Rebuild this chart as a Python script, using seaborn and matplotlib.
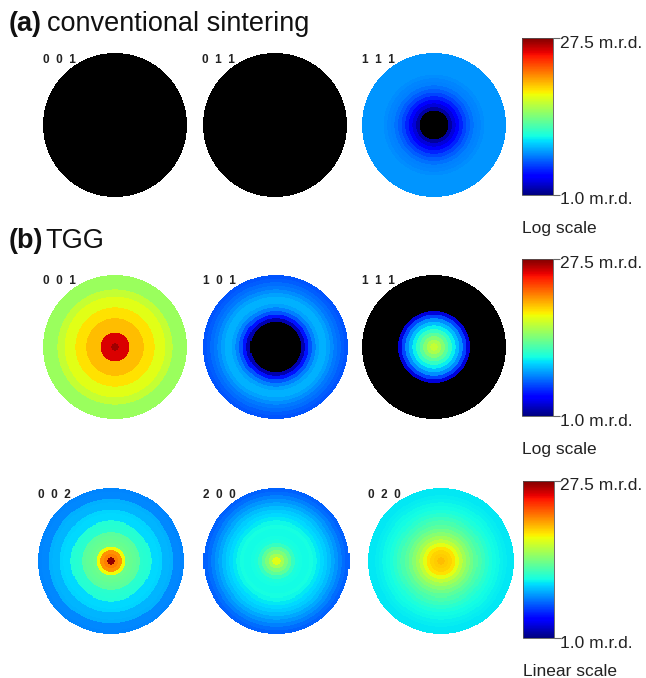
import numpy as np
import matplotlib
matplotlib.use("Agg")
import matplotlib.pyplot as plt
import matplotlib.colors as mcolors
import seaborn as sns

# ---- data: pole figure intensity (m.r.d.) per ring, centre -> rim ----
# ring outer radii as fraction of the pole figure radius
ring_edges = [0.05, 0.10, 0.15, 0.20, 0.25, 0.30, 0.35, 0.40, 0.45, 0.50,
              0.55, 0.60, 0.65, 0.70, 0.75, 0.80, 0.85, 0.90, 0.95, 1.00]

# (a) conventional sintering, log scale (values below 1.0 show black)
cs_001 = [0.5] * 20
cs_011 = [0.5] * 20
cs_111 = [0.5, 0.5, 0.5, 0.5, 1.1, 1.3, 1.5, 1.7, 1.9, 2.05,
          2.2, 2.3, 2.35, 2.4, 2.45, 2.45, 2.45, 2.45, 2.45, 2.45]

# (b) TGG, log scale
tgg_001 = [25.0, 21.0, 21.0, 21.0, 10.5, 10.5, 10.5, 10.5, 9.2, 9.2,
           9.2, 7.9, 7.9, 7.9, 7.0, 7.0, 5.9, 5.9, 5.9, 5.9]
tgg_101 = [0.5, 0.5, 0.5, 0.5, 0.5, 0.5, 0.5, 1.15, 1.6, 2.0,
           2.3, 2.55, 2.7, 2.7, 2.55, 2.4, 2.25, 2.15, 2.05, 2.0]
tgg_111 = [7.0, 6.3, 5.4, 4.6, 3.9, 3.3, 2.8, 2.4, 1.9, 1.3,
           0.5, 0.5, 0.5, 0.5, 0.5, 0.5, 0.5, 0.5, 0.5, 0.5]

# (b) TGG, linear scale
tgg_002 = [27.0, 21.5, 21.0, 18.0, 13.8, 13.6, 13.4, 13.2, 11.6, 11.5,
           11.4, 10.0, 10.0, 9.9, 9.0, 9.0, 8.9, 7.9, 7.9, 7.8]
tgg_200 = [17.5, 15.5, 14.3, 13.3, 12.0, 11.2, 11.0, 10.9, 10.9, 11.0,
           10.8, 10.4, 10.0, 9.6, 9.2, 8.7, 8.2, 7.7, 7.2, 6.8]
tgg_020 = [19.8, 19.4, 19.2, 18.8, 17.6, 16.4, 15.4, 14.6, 13.9, 13.2,
           12.6, 12.1, 11.6, 11.2, 10.9, 10.8, 10.6, 10.5, 10.4, 10.4]

row_profiles = [[cs_001, cs_011, cs_111],
                [tgg_001, tgg_101, tgg_111],
                [tgg_002, tgg_200, tgg_020]]
row_poles = [["0  0  1", "0  1  1", "1  1  1"],
             ["0  0  1", "1  0  1", "1  1  1"],
             ["0  0  2", "2  0  0", "0  2  0"]]
row_scales = ["Log scale", "Log scale", "Linear scale"]
mrd_min, mrd_max = 1.0, 27.5

# ---- style ----
sns.set_theme(style="white")
plt.rcParams["font.family"] = ["Liberation Sans", "DejaVu Sans"]

W, H = 646, 678
fig = plt.figure(figsize=(W / 100, H / 100), dpi=100)
fig.patch.set_facecolor("white")

cmap = matplotlib.colormaps["jet"].copy()
cmap.set_under("black")

# pixel layout
row_cy = [125, 346.5, 561]
row_r = [72, 72, 73]
row_cx = [[115, 274.5, 434], [115, 275.5, 434], [111, 276.5, 441]]
cbar_box = [(522, 38, 31, 157), (522, 259, 31, 157), (523, 481, 31, 157)]

# square grid for each pole figure
N = 144
c = (np.arange(N) + 0.5) / N * 2 - 1
xx, yy = np.meshgrid(c, c)
rr = np.hypot(xx, yy)
ring_idx = np.clip(np.searchsorted(ring_edges, rr), 0, len(ring_edges) - 1)


def px_axes(x, y, w, h):
    return fig.add_axes([x / W, 1 - (y + h) / H, w / W, h / H])


for i in range(3):
    if row_scales[i].startswith("Log"):
        norm = mcolors.LogNorm(vmin=mrd_min, vmax=mrd_max)
    else:
        norm = mcolors.Normalize(vmin=mrd_min, vmax=mrd_max)
    r = row_r[i]
    cy = row_cy[i]
    for j in range(3):
        cx = row_cx[i][j]
        ax = px_axes(cx - r, cy - r, 2 * r, 2 * r)
        grid = np.array(row_profiles[i][j])[ring_idx]
        sns.heatmap(grid, mask=rr > 1, ax=ax, cmap=cmap, norm=norm,
                    cbar=False, xticklabels=False, yticklabels=False,
                    square=True)
        ax.set_xlabel("")
        ax.set_ylabel("")
        fig.text((cx - r) / W, 1 - (cy - r + 1) / H, row_poles[i][j],
                 fontsize=8.5, fontweight="bold", color="#222222",
                 ha="left", va="top")

    # colorbar
    bx, by, bw, bh = cbar_box[i]
    cax = px_axes(bx, by, bw, bh)
    sm = matplotlib.cm.ScalarMappable(norm=norm, cmap=cmap)
    cb = fig.colorbar(sm, cax=cax)
    cb.set_ticks([mrd_min, mrd_max])
    cb.set_ticklabels(["", ""])
    cax.minorticks_off()
    cax.tick_params(axis="y", length=5, width=0.8, color="#666666", right=True)
    cb.outline.set_linewidth(0.6)
    cb.outline.set_edgecolor("#555555")
    fig.text(560 / W, 1 - (by + 5) / H, "27.5 m.r.d.", fontsize=12.5,
             color="#222222", ha="left", va="center")
    fig.text(560 / W, 1 - (by + bh + 5) / H, "1.0 m.r.d.", fontsize=12.5,
             color="#222222", ha="left", va="center")
    fig.text(bx / W, 1 - (by + bh + 38) / H, row_scales[i], fontsize=12.5,
             color="#222222", ha="left", va="baseline")

# panel titles
fig.text(9 / W, 1 - 31 / H, "(a)", fontsize=19.5, fontweight="bold",
         color="#111111", ha="left", va="baseline")
fig.text(47 / W, 1 - 31 / H, "conventional sintering", fontsize=19.5,
         color="#111111", ha="left", va="baseline")
fig.text(9 / W, 1 - 248 / H, "(b)", fontsize=19.5, fontweight="bold",
         color="#111111", ha="left", va="baseline")
fig.text(45 / W, 1 - 248 / H, "TGG", fontsize=19.5,
         color="#111111", ha="left", va="baseline")

fig.savefig("out.png", dpi=100, facecolor="white")
